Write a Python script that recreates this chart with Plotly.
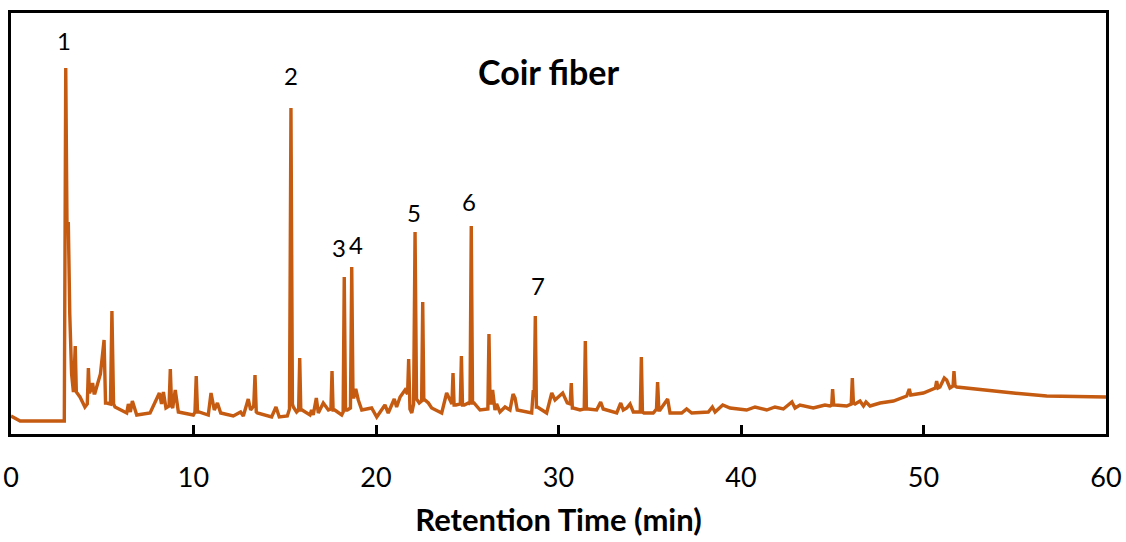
import plotly.graph_objects as go

# Retention time (min) and detector signal (arbitrary units)
times = [0.0, 0.09, 0.5, 2.92, 3.0, 3.07, 3.14, 3.22, 3.32, 3.42, 3.52, 3.58, 3.78, 4.05, 4.18, 4.24, 4.30,
         4.40, 4.47, 4.55, 4.6, 4.9, 5.1, 5.18, 5.24, 5.45, 5.53, 5.62, 5.7, 6.34, 6.43, 6.54, 6.65, 6.89,
         7.62, 8.13, 8.25, 8.35, 8.49, 8.66, 8.73, 8.8, 8.86, 9.0, 9.17, 9.99, 10.08, 10.15, 10.22, 10.3,
         10.81, 10.96, 11.14, 11.31, 11.49, 12.18, 12.58, 12.73, 13.0, 13.13, 13.3, 13.37, 13.44, 13.5,
         14.28, 14.52, 14.7, 15.14, 15.26, 15.34, 15.42, 15.47, 15.65, 15.76, 15.82, 15.88, 15.95, 16.38,
         16.47, 16.56, 16.73, 16.84, 17.11, 17.39, 17.53, 17.59, 17.65, 17.74, 18.12, 18.20, 18.26, 18.33,
         18.43, 18.60, 18.67, 18.74, 18.79, 18.89, 19.03, 19.22, 19.76, 20.04, 20.49, 20.67, 21.0, 21.13,
         21.32, 21.59, 21.73, 21.79, 21.86, 21.96, 22.06, 22.14, 22.22, 22.37, 22.50, 22.56, 22.62, 22.68,
         22.87, 23.05, 23.6, 23.87, 24.05, 24.16, 24.22, 24.28, 24.38, 24.62, 24.68, 24.74, 24.84, 25.06,
         25.15, 25.22, 25.29, 25.37, 25.7, 26.13, 26.19, 26.25, 26.32, 26.39, 26.52, 26.61, 26.79, 27.07,
         27.34, 27.51, 27.62, 27.74, 28.53, 28.62, 28.67, 28.73, 28.79, 28.84, 29.35, 29.63, 29.81, 30.23,
         30.48, 30.64, 30.7, 30.76, 30.81, 31.18, 31.41, 31.47, 31.53, 31.63, 32.09, 32.31, 32.45, 33.19,
         33.41, 33.55, 33.74, 33.92, 34.1, 34.48, 34.54, 34.60, 34.68, 35.19, 35.37, 35.43, 35.50, 35.56,
         35.98, 36.11, 36.75, 37.02, 37.3, 38.21, 38.43, 38.58, 39.0, 39.4, 40.31, 40.77, 41.41, 41.86,
         42.32, 42.79, 42.96, 43.23, 43.96, 44.6, 44.88, 44.97, 45.02, 45.08, 45.15, 45.79, 46.04, 46.1,
         46.16, 46.25, 46.52, 46.71, 46.85, 47.07, 47.62, 48.35, 49.08, 49.22, 49.3, 49.99, 50.65, 50.72,
         50.8, 50.9, 51.14, 51.27, 51.45, 51.62, 51.67, 51.73, 51.82, 52.73, 54.92, 56.75, 60.0]
signal = [18, 17, 13, 13, 366, 205, 212, 120, 60, 42, 88, 42, 37, 27, 30, 66, 41,
          45, 51, 41, 41, 60, 94, 31, 31, 30, 123, 30, 27, 21, 30, 22, 33, 19,
          21, 41, 30, 42, 26, 28, 65, 28, 26, 44, 22, 19, 22, 58, 22, 22,
          19, 41, 24, 31, 21, 18, 22, 18, 35, 24, 28, 59, 22, 21,
          17, 27, 17, 18, 25, 326, 30, 27, 22, 24, 76, 24, 24, 19,
          24, 19, 36, 21, 31, 24, 25, 63, 24, 24, 19, 22, 157, 24,
          24, 26, 167, 37, 37, 45, 34, 24, 26, 17, 29, 21, 35, 27,
          37, 44, 40, 75, 25, 21, 30, 202, 35, 31, 33, 132, 34, 34,
          31, 26, 21, 41, 34, 30, 61, 29, 29, 30, 78, 29, 29, 31,
          30, 208, 31, 31, 24, 25, 100, 31, 31, 44, 24, 30, 22, 27,
          24, 40, 36, 24, 21, 44, 40, 118, 27, 27, 21, 41, 34, 41,
          31, 30, 51, 26, 26, 24, 25, 93, 25, 25, 24, 32, 25, 21,
          31, 24, 26, 30, 22, 22, 77, 22, 21, 21, 25, 52, 24, 24,
          35, 21, 21, 25, 21, 22, 27, 22, 29, 26, 24, 27, 24, 27,
          25, 32, 26, 29, 26, 29, 28, 29, 45, 29, 29, 28, 30, 56,
          31, 30, 33, 28, 32, 28, 31, 33, 38, 45, 39, 41, 46, 53,
          46, 47, 56, 54, 46, 48, 63, 48, 47, 45, 41, 38, 37]

# Peak numbering labels
label_text = ["1", "2", "3", "4", "5", "6", "7"]
label_time = [2.9, 15.32, 17.97, 18.9, 22.1, 25.11, 28.86]
label_signal = [394, 359, 187, 190, 222, 233, 149]

tick_vals = [0, 10, 20, 30, 40, 50, 60]
tick_text = ["0", "10", "20", "30", "40", "50", "60"]

title_text = "Coir fiber"
x_title = "Retention Time (min)"

LINE_COLOR = "#C55A11"
FONT = "Lato"

fig = go.Figure()
fig.add_trace(go.Scatter(x=times, y=signal, mode="lines",
                         line=dict(color=LINE_COLOR, width=3.4), showlegend=False,
                         hoverinfo="skip"))

for txt, t, s in zip(label_text, label_time, label_signal):
    fig.add_annotation(x=t, y=s, xref="x", yref="y", text=txt, showarrow=False,
                       xanchor="center", yanchor="middle",
                       font=dict(family=FONT, size=24, color="black"))

fig.add_annotation(x=0.491, y=0.86, xref="paper", yref="paper", text="<b>" + title_text + "</b>",
                   showarrow=False, xanchor="center", yanchor="middle",
                   font=dict(family=FONT, size=34, color="black"))

fig.update_layout(
    width=1126, height=542,
    margin=dict(l=11, r=20, t=13, b=108),
    paper_bgcolor="white", plot_bgcolor="white",
    font=dict(family=FONT, color="black"),
)
fig.update_xaxes(range=[0, 60], tickvals=tick_vals, ticktext=tick_text, automargin=False,
                 ticks="inside", ticklen=9, tickwidth=2.5, tickcolor="black",
                 showline=True, linecolor="black", linewidth=2.5, mirror=True,
                 showgrid=False, zeroline=False, ticklabelstandoff=18,
                 tickfont=dict(family=FONT, size=27, color="black"),
                 title=dict(text="<b>" + x_title + "</b>", standoff=18,
                            font=dict(family=FONT, size=31, color="black")))
fig.update_yaxes(range=[0, 421], showticklabels=False, ticks="", automargin=False,
                 showline=True, linecolor="black", linewidth=2.5, mirror=True,
                 showgrid=False, zeroline=False)

fig.write_html("out.html", config={"displayModeBar": False},
               post_script="document.body.style.margin='0';")
